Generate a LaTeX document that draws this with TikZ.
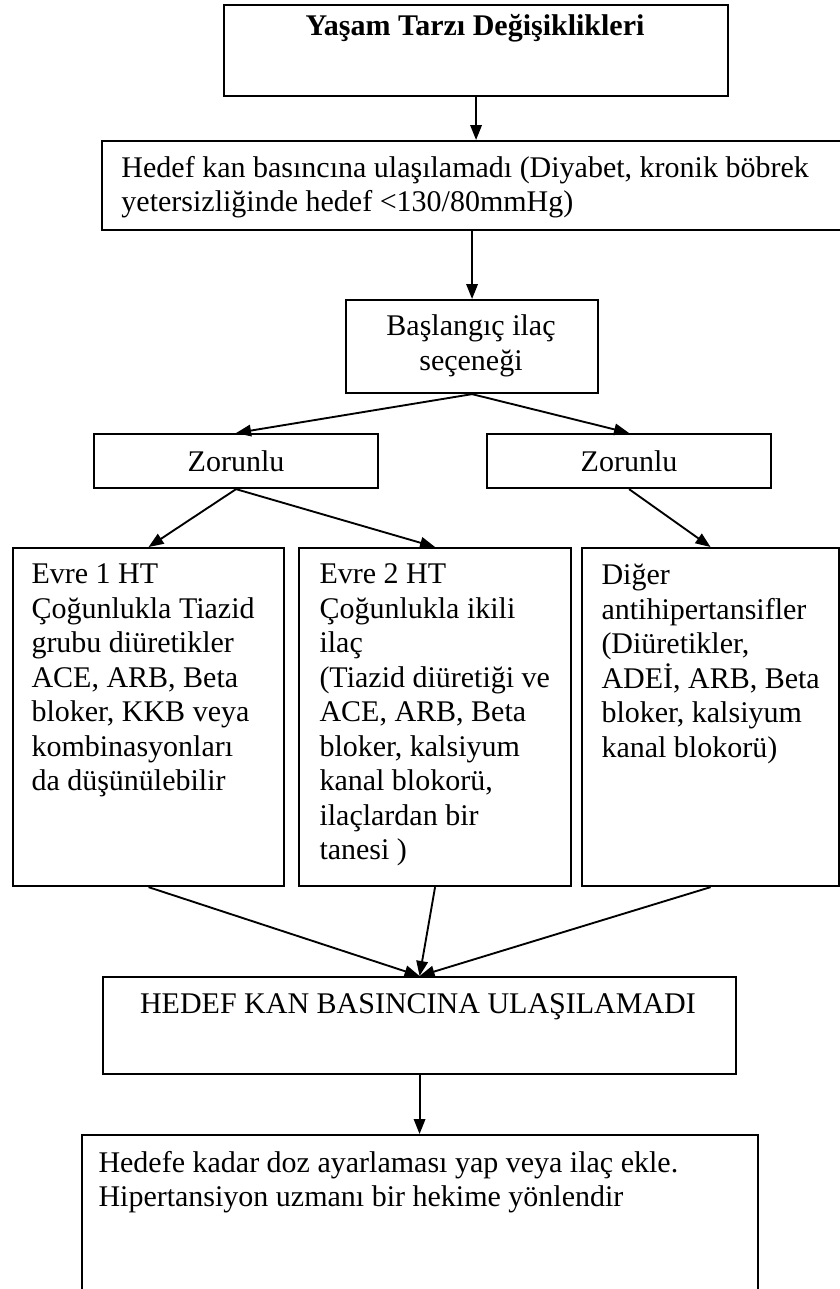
\documentclass[tikz,border=0pt]{standalone}
\usepackage{fontspec}
\setmainfont{Liberation Serif}
\usetikzlibrary{arrows.meta,positioning}

\tikzset{
  kutu/.style={draw, line width=0.85pt, anchor=north west, inner sep=0pt},
  yazi/.style={inner sep=0pt, align=left, font=\fontsize{12}{13.8}\selectfont},
  ok/.style={line width=0.75pt, -{Triangle[length=6pt,width=4.6pt]}}
}

\begin{document}
\begin{tikzpicture}[x=0.4pt, y=-0.4pt]

% Page frame
\clip (0,0) rectangle (840,1289);

% Draw the boxes
\node[kutu, minimum width=201.6pt, minimum height=36.4pt] (yasam) at (223,4) {};
\node[kutu, minimum width=304pt, minimum height=35.6pt] (hedefkan) at (101,140) {};
\node[kutu, minimum width=100.8pt, minimum height=37.2pt] (secenek) at (345,299) {};
\node[kutu, yazi, minimum width=113.6pt, minimum height=21.6pt] (zor1) at (93,433) {Zorunlu};
\node[kutu, yazi, minimum width=113.6pt, minimum height=21.6pt] (zor2) at (486,433) {Zorunlu};
\node[kutu, minimum width=108.4pt, minimum height=135.2pt] (evre1) at (12,547) {};
\node[kutu, minimum width=108.8pt, minimum height=135.2pt] (evre2) at (298,547) {};
\node[kutu, minimum width=102.8pt, minimum height=135.2pt] (diger) at (581,547) {};
\node[kutu, minimum width=253.2pt, minimum height=38.8pt] (hedef) at (102,976) {};
\node[kutu, minimum width=270.4pt, minimum height=80pt] (son) at (81,1134) {};

% Texts of the boxes
\node[yazi, anchor=base] (yasam-t) at (475,35) {\textbf{Yaşam Tarzı Değişiklikleri}};
\node[yazi, anchor=north west] (hedefkan-t) at (121,155.5)
  {Hedef kan basıncına ulaşılamadı (Diyabet, kronik böbrek\\yetersizliğinde hedef <130/80mmHg)};
\node[yazi, align=center, anchor=north] (secenek-t) at (471,314.5) {Başlangıç ilaç\\seçeneği};
\node[yazi, anchor=north west] (evre1-t) at (31,563.5)
  {Evre 1 HT\\Çoğunlukla Tiazid\\grubu diüretikler\\ACE, ARB, Beta\\bloker, KKB veya\\kombinasyonları\\da düşünülebilir};
\node[yazi, anchor=north west] (evre2-t) at (319,563.5)
  {Evre 2 HT\\Çoğunlukla ikili\\ilaç\\(Tiazid diüretiği ve\\ACE, ARB, Beta\\bloker, kalsiyum\\kanal blokorü,\\ilaçlardan bir\\tanesi )};
\node[yazi, anchor=north west] (diger-t) at (601,563.5)
  {Diğer\\antihipertansifler\\(Diüretikler,\\ADEİ, ARB, Beta\\bloker, kalsiyum\\kanal blokorü)};
\node[yazi, anchor=base] (hedef-t) at (418,1013) {HEDEF KAN BASINCINA ULAŞILAMADI};
\node[yazi, anchor=north west] (son-t) at (98,1150.5)
  {Hedefe kadar doz ayarlaması yap veya ilaç ekle.\\Hipertansiyon uzmanı bir hekime yönlendir};

% Arrows
\draw[ok] (yasam.south) -- (yasam.south |- hedefkan.north);
\draw[ok] (secenek.north |- hedefkan.south) -- (secenek.north);
\draw[ok] (secenek.south) -- (zor1.north);
\draw[ok] (secenek.south) -- (zor2.north);
\draw[ok] (zor1.south) -- (evre1.north);
\draw[ok] (zor1.south) -- (evre2.north);
\draw[ok] (zor2.south) -- (diger.north);
\foreach \k in {evre1,evre2,diger}
  \draw[ok] (\k.south) -- (hedef.north);
\draw[ok] (hedef.south) -- (hedef.south |- son.north);

\end{tikzpicture}
\end{document}
